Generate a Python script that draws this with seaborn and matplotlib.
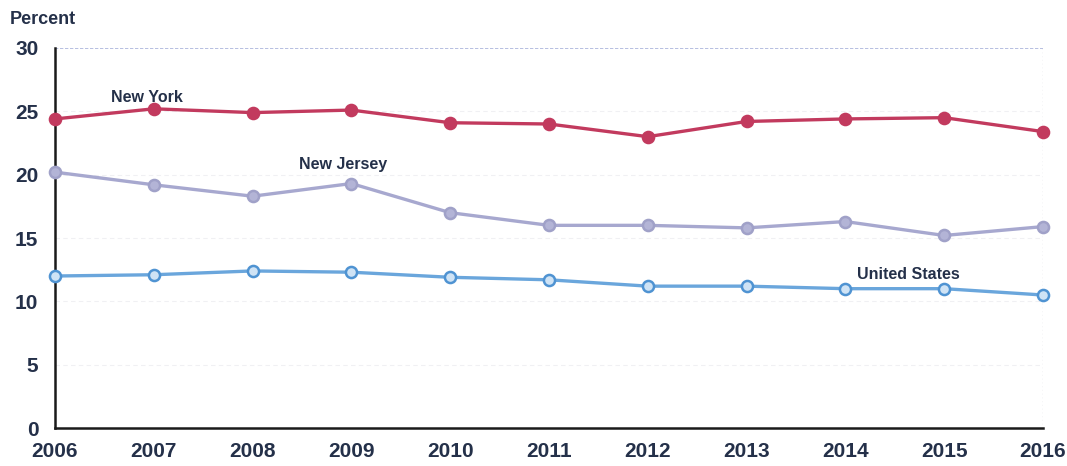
import matplotlib
matplotlib.use("Agg")
import matplotlib.pyplot as plt
import seaborn as sns
import pandas as pd

years = [2006, 2007, 2008, 2009, 2010, 2011, 2012, 2013, 2014, 2015, 2016]
new_york = [24.4, 25.2, 24.9, 25.1, 24.1, 24.0, 23.0, 24.2, 24.4, 24.5, 23.4]
new_jersey = [20.2, 19.2, 18.3, 19.3, 17.0, 16.0, 16.0, 15.8, 16.3, 15.2, 15.9]
united_states = [12.0, 12.1, 12.4, 12.3, 11.9, 11.7, 11.2, 11.2, 11.0, 11.0, 10.5]
y_ticks = [0, 5, 10, 15, 20, 25, 30]

sns.set_theme(style="white")
plt.rcParams["font.family"] = ["Liberation Sans", "DejaVu Sans"]

df = pd.DataFrame({
    "year": years * 3,
    "pct": new_york + new_jersey + united_states,
    "region": ["New York"] * 11 + ["New Jersey"] * 11 + ["United States"] * 11,
})

fig = plt.figure(figsize=(10.67, 4.66), dpi=100)
ax = fig.add_axes([0.0515, 0.0815, 0.926, 0.8155])

styles = {
    "New York": dict(color="#c23a5e", mfc="#c23a5e", mec="#c23a5e"),
    "New Jersey": dict(color="#a7a8cf", mfc="#b3b4d6", mec="#a0a1c8"),
    "United States": dict(color="#6aa6dc", mfc="#cfe3f5", mec="#4f93d2"),
}
for region, st in styles.items():
    sub = df[df["region"] == region]
    sns.lineplot(data=sub, x="year", y="pct", ax=ax, color=st["color"],
                 linewidth=2.4, marker="o", markersize=8,
                 markerfacecolor=st["mfc"], markeredgecolor=st["mec"],
                 markeredgewidth=1.8, clip_on=False, zorder=3)

ax.set_xlim(2006, 2016)
ax.set_ylim(0, 30)
ax.set_xticks(years)
ax.set_yticks(y_ticks)
ax.set_xlabel("")
ax.set_ylabel("")

text_color = "#243049"
ax.tick_params(axis="both", labelsize=15, colors="#222222", labelcolor=text_color,
               length=5, width=1.2, direction="out")
ax.tick_params(axis="y", pad=7)
ax.tick_params(axis="x", pad=5)
for lbl in ax.get_xticklabels() + ax.get_yticklabels():
    lbl.set_fontweight("bold")

# faint horizontal guides, stronger dotted line at the top
for v in y_ticks[1:-1]:
    ax.axhline(v, color="#f0f0f3", linewidth=0.8, linestyle=(0, (4, 3)), zorder=0)
ax.axhline(30, color="#aab4dc", linewidth=1.2, linestyle=(0, (2, 1)), zorder=0)
ax.axvline(2016, color="#b8b8c0", linewidth=0.9, linestyle=(0, (1, 2)), zorder=0)

for side in ["top", "right"]:
    ax.spines[side].set_visible(False)
for side in ["left", "bottom"]:
    ax.spines[side].set_color("#1a1a1a")
    ax.spines[side].set_linewidth(1.8)

ax.text(2006.57, 25.75, "New York", fontsize=11.5, fontweight="bold", color=text_color)
ax.text(2008.47, 20.45, "New Jersey", fontsize=11.5, fontweight="bold", color=text_color)
ax.text(2014.12, 11.8, "United States", fontsize=11.5, fontweight="bold", color=text_color)

fig.text(10 / 1067, 1 - 20 / 466, "Percent", fontsize=13, fontweight="bold",
         color=text_color, ha="left", va="center")

fig.savefig("out.png", dpi=100, facecolor="white")
